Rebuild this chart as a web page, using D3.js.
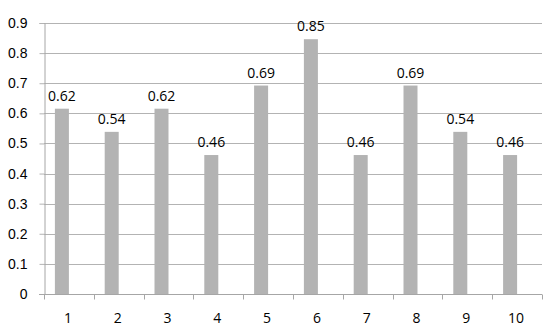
<!DOCTYPE html>
<html lang="en">
<head>
<meta charset="UTF-8">
<title>Bar chart</title>
<script src="https://cdn.jsdelivr.net/npm/d3@7"></script>
<style>
	body { margin: 0; background: #fff; }
	svg { font-family: "Open Sans", "Liberation Sans", sans-serif; }
	.grid line { stroke: #b3b3b3; stroke-width: 1; }
	.axis path, .axis line { stroke: #a6a6a6; }
	.axis text { fill: #000; font-size: 14px; }
	.label { fill: #000; font-size: 14px; text-anchor: middle; }
</style>
</head>
<body>
<script>
	var categories = ["1", "2", "3", "4", "5", "6", "7", "8", "9", "10"];
	var values = [0.6154, 0.5385, 0.6154, 0.4615, 0.6923, 0.8462, 0.4615, 0.6923, 0.5385, 0.4615];
	var yTicks = [0, 0.1, 0.2, 0.3, 0.4, 0.5, 0.6, 0.7, 0.8, 0.9];

	var width = 550,
		height = 333;
	var margin = {top: 23, right: 8, bottom: 39, left: 44};

	var svg = d3.select("body").append("svg")
		.attr("width", width)
		.attr("height", height);

	var x = d3.scaleBand()
		.domain(categories)
		.range([margin.left, width - margin.right]);

	var y = d3.scaleLinear()
		.domain([0, 0.9])
		.range([height - margin.bottom, margin.top]);

	// gridlines
	svg.append("g")
		.attr("class", "grid")
		.selectAll("line")
		.data(yTicks.slice(1))
		.enter().append("line")
		.attr("x1", margin.left)
		.attr("x2", width - margin.right)
		.attr("y1", function (d) { return Math.round(y(d)) + 0.5; })
		.attr("y2", function (d) { return Math.round(y(d)) + 0.5; });

	var barW = 14;

	// bars sit just left of the band centre
	svg.append("g")
		.selectAll("rect")
		.data(values)
		.enter().append("rect")
		.attr("x", function (d, i) { return x(categories[i]) + x.bandwidth() / 2 - barW; })
		.attr("y", function (d) { return y(d); })
		.attr("width", barW)
		.attr("height", function (d) { return y(0) - y(d); })
		.style("fill", "#b3b3b3");

	svg.append("g")
		.selectAll("text")
		.data(values)
		.enter().append("text")
		.attr("class", "label")
		.attr("x", function (d, i) { return x(categories[i]) + x.bandwidth() / 2 - barW / 2; })
		.attr("y", function (d) { return y(d) - 8; })
		.text(function (d) { return d3.format(".2f")(d); });

	// y axis
	var yAxis = svg.append("g")
		.attr("class", "axis")
		.attr("transform", "translate(" + (margin.left + 0.5) + ",0)")
		.call(d3.axisLeft(y).tickValues(yTicks).tickSize(5).tickPadding(12)
			.tickFormat(function (d) { return d === 0 ? "0" : d3.format(".1f")(d); }));
	yAxis.selectAll(".tick line").style("stroke", "#b3b3b3");

	// x axis with ticks at band edges
	var xAxis = svg.append("g")
		.attr("class", "axis")
		.attr("transform", "translate(0," + (Math.round(y(0)) + 0.5) + ")");
	xAxis.append("line")
		.attr("x1", margin.left - 5)
		.attr("x2", width - margin.right)
		.style("stroke", "#a6a6a6");
	var edges = categories.map(function (c) { return x(c); }).concat([width - margin.right]);
	xAxis.selectAll(".edge")
		.data(edges)
		.enter().append("line")
		.attr("class", "edge")
		.attr("x1", function (d) { return Math.round(d) + 0.5; })
		.attr("x2", function (d) { return Math.round(d) + 0.5; })
		.attr("y1", 0)
		.attr("y2", 5)
		.style("stroke", "#a6a6a6");
	xAxis.selectAll(".cat")
		.data(categories)
		.enter().append("text")
		.attr("class", "cat")
		.attr("x", function (d) { return x(d) + x.bandwidth() / 2 - 1; })
		.attr("y", 28)
		.attr("text-anchor", "middle")
		.style("fill", "#000")
		.style("font-size", "14px")
		.text(function (d) { return d; });
</script>
</body>
</html>
